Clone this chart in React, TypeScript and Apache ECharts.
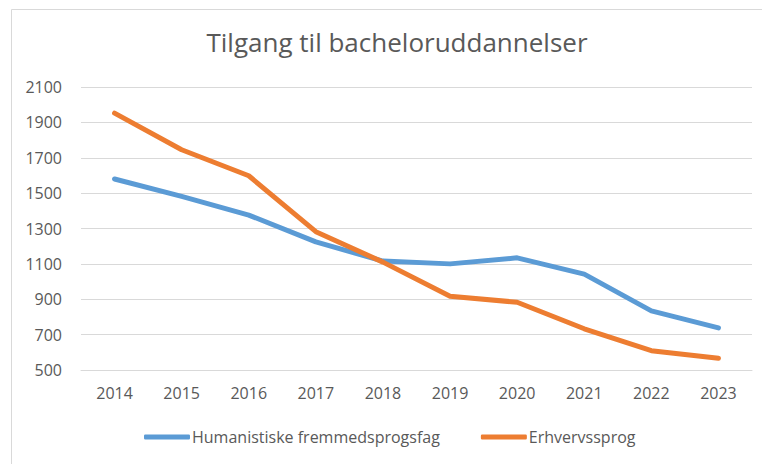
import React, { useEffect, useRef } from "react";
import * as echarts from "echarts";

const years = ["2014", "2015", "2016", "2017", "2018", "2019", "2020", "2021", "2022", "2023"];
const humanistiske = [1580, 1482, 1376, 1224, 1116, 1100, 1134, 1042, 834, 738];
const erhvervssprog = [1952, 1745, 1598, 1282, 1110, 917, 883, 733, 609, 567];
const seriesNames = ["Humanistiske fremmedsprogsfag", "Erhvervssprog"];
const titleText = "Tilgang til bacheloruddannelser";

const FONT = "'Open Sans', sans-serif";
const TEXT = "#595959";

export default function App() {
  const ref = useRef<HTMLDivElement>(null);
  useEffect(() => {
    if (!ref.current) return;
    const chart = echarts.init(ref.current, null, { renderer: "svg" });
    chart.setOption({
      animation: false,
      backgroundColor: "#ffffff",
      graphic: [
        {
          type: "rect",
          shape: { x: 11.5, y: 9.5, width: 800, height: 500 },
          style: { fill: "none", stroke: "#d9d9d9", lineWidth: 1 },
          silent: true,
        },
      ],
      title: {
        text: titleText,
        left: 392,
        textAlign: "center",
        top: 24,
        textStyle: { fontFamily: FONT, fontSize: 26, fontWeight: "normal", color: TEXT },
      },
      legend: {
        bottom: 14,
        left: 139,
        itemWidth: 46,
        itemHeight: 5,
        itemGap: 41,
        icon: "roundRect",
        textStyle: { fontFamily: FONT, fontSize: 16, color: TEXT, padding: [0, 0, 0, -3] },
        data: seriesNames,
      },
      grid: { left: 81, right: 10, top: 87, bottom: 94, containLabel: false },
      xAxis: {
        type: "category",
        data: years,
        boundaryGap: true,
        axisLine: { show: true, lineStyle: { color: "#d9d9d9", width: 1 } },
        axisTick: { show: false },
        axisLabel: { color: TEXT, fontFamily: FONT, fontSize: 16, margin: 15 },
      },
      yAxis: {
        type: "value",
        min: 500,
        max: 2100,
        interval: 200,
        axisLine: { show: false },
        axisTick: { show: false },
        splitLine: { lineStyle: { color: "#d9d9d9", width: 1 } },
        axisLabel: {
          color: TEXT,
          fontFamily: FONT,
          fontSize: 16,
          margin: 19,
          formatter: (v: number) => String(v),
        },
      },
      series: [
        {
          name: seriesNames[0],
          type: "line",
          data: humanistiske,
          symbol: "none",
          color: "#5b9bd5",
          lineStyle: { width: 5, color: "#5b9bd5", cap: "round", join: "round" },
        },
        {
          name: seriesNames[1],
          type: "line",
          data: erhvervssprog,
          symbol: "none",
          color: "#ed7d31",
          lineStyle: { width: 5, color: "#ed7d31", cap: "round", join: "round" },
        },
      ],
    });
    return () => chart.dispose();
  }, []);
  return (
    <div
      ref={ref}
      style={{ position: "fixed", left: 0, top: 0, width: 762, height: 464 }}
    />
  );
}
